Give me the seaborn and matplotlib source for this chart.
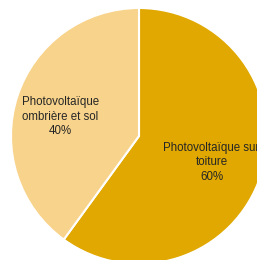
import matplotlib
matplotlib.use("Agg")
import matplotlib.pyplot as plt
import seaborn as sns

categories = ["Photovoltaïque sur\ntoiture", "Photovoltaïque\nombrière et sol"]
values = [60, 40]
colors = ["#E0A800", "#F8D38B"]
label_pos = [(0.566, -0.207), (-0.615, 0.152)]

sns.set_theme(style="white")
plt.rcParams["font.family"] = ["Liberation Sans", "DejaVu Sans"]

fig = plt.figure(figsize=(2.57, 2.60), dpi=100)
ax = fig.add_axes([0, 0, 1, 1])
wedges, _ = ax.pie(values, colors=colors, startangle=90, counterclock=False,
                   radius=1.0, center=(0, 0),
                   wedgeprops=dict(edgecolor="white", linewidth=1.5))
total = sum(values)
for cat, v, (x, y) in zip(categories, values, label_pos):
    ax.text(x, y, f"{cat}\n{round(100 * v / total)}%", ha="center", va="center",
            fontsize=8.3, color="#262626", linespacing=1.3)
ax.set_aspect("auto")
ax.set_xlim(-139 / 128, (257 - 139) / 128)
ax.set_ylim(-(260 - 136) / 128, 136 / 128)
ax.axis("off")
fig.savefig("out.png", dpi=100, facecolor="white")
